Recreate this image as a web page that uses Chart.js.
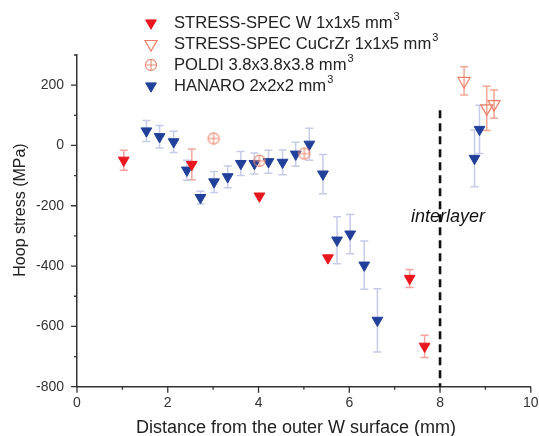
<!DOCTYPE html>
<html>
<head>
<meta charset="utf-8">
<script src="https://cdn.jsdelivr.net/npm/chart.js@4.4.0/dist/chart.umd.min.js"></script>
<style>
  html, body { margin: 0; padding: 0; background: #fff; }
</style>
</head>
<body>
<canvas id="hoopChart" width="539" height="436"></canvas>
<script>
// STRESS-SPEC W 1x1x5 mm3
const wDist = [1.03, 2.53, 4.02, 5.53, 7.33, 7.66];
const wStress = [-49, -63, -168, -373, -441, -666];
const wErr = [33, 51, 0, 0, 30, 37];

// STRESS-SPEC CuCrZr 1x1x5 mm3
const cuDist = [8.53, 9.03, 9.19];
const cuStress = [214, 123, 137];
const cuErr = [47, 73, 47];

// POLDI 3.8x3.8x3.8 mm3
const poldiDist = [3.01, 4.02, 5.01];
const poldiStress = [23, -51, -27];

// HANARO 2x2x2 mm3
const hanaroDist = [1.53, 1.82, 2.13, 2.42, 2.72, 3.02, 3.32, 3.61, 3.91, 4.22, 4.53, 4.82, 5.12, 5.42, 5.73, 6.02, 6.33, 6.62, 8.76, 8.87];
const hanaroStress = [48, 29, 12, -82, -173, -121, -104, -60, -60, -54, -56, -29, 4, -95, -314, -294, -397, -580, -43, 53];
const hanaroErr = [35, 37, 35, 33, 21, 35, 36, 40, 35, 38, 41, 40, 53, 65, 78, 65, 80, 105, 94, 80];

const xLabels = [0, 2, 4, 6, 8, 10];
const yLabels = [-800, -600, -400, -200, 0, 200];
const interlayerX = 8;
const interlayerTop = 117;

const FONT = 'Arial, "Liberation Sans", Helvetica, sans-serif';
const pts = (xs, ys) => xs.map((x, i) => ({ x, y: ys[i] }));

// circle with a cross for POLDI
const poldiMark = document.createElement('canvas');
poldiMark.width = 14; poldiMark.height = 14;
(() => {
  const c = poldiMark.getContext('2d');
  c.strokeStyle = '#ef8a72';
  c.lineWidth = 1.1;
  c.beginPath(); c.arc(7, 7, 5.6, 0, Math.PI * 2); c.stroke();
  c.beginPath();
  c.moveTo(1.4, 7); c.lineTo(12.6, 7);
  c.moveTo(7, 1.4); c.lineTo(7, 12.6);
  c.stroke();
})();

const series = [
  { label: 'STRESS-SPEC W 1x1x5 mm', data: pts(wDist, wStress), errors: wErr, errorColor: '#f4a4a0',
    pointStyle: 'triangle', rotation: 180, radius: 6.2, backgroundColor: '#e8161d', borderColor: '#e8161d', borderWidth: 1 },
  { label: 'STRESS-SPEC CuCrZr 1x1x5 mm', data: pts(cuDist, cuStress), errors: cuErr, errorColor: '#f3a895',
    pointStyle: 'triangle', rotation: 180, radius: 7, backgroundColor: 'rgba(255,255,255,0)', borderColor: '#ef7d66', borderWidth: 1.2 },
  { label: 'POLDI 3.8x3.8x3.8 mm', data: pts(poldiDist, poldiStress),
    pointStyle: poldiMark, radius: 7, backgroundColor: '#ef8a72', borderColor: '#ef8a72' },
  { label: 'HANARO 2x2x2 mm', data: pts(hanaroDist, hanaroStress), errors: hanaroErr, errorColor: '#c6cbea',
    pointStyle: 'triangle', rotation: 180, radius: 6.2, backgroundColor: '#21409a', borderColor: '#21409a', borderWidth: 1 },
];

const errorBars = {
  id: 'errorBars',
  beforeDatasetsDraw(chart) {
    const { ctx, scales: { x, y } } = chart;
    chart.data.datasets.forEach(ds => {
      if (!ds.errors) return;
      ctx.save();
      ctx.strokeStyle = ds.errorColor;
      ctx.lineWidth = 1.5;
      ds.data.forEach((p, i) => {
        const e = ds.errors[i];
        if (!e) return;
        const px = x.getPixelForValue(p.x);
        const top = y.getPixelForValue(p.y + e);
        const bot = y.getPixelForValue(p.y - e);
        ctx.beginPath();
        ctx.moveTo(px, top); ctx.lineTo(px, bot);
        ctx.moveTo(px - 4, top); ctx.lineTo(px + 4, top);
        ctx.moveTo(px - 4, bot); ctx.lineTo(px + 4, bot);
        ctx.stroke();
      });
      ctx.restore();
    });
  }
};

const decorations = {
  id: 'decorations',
  beforeDatasetsDraw(chart) {
    const { ctx, scales: { x, y } } = chart;
    // interlayer line
    const lx = x.getPixelForValue(interlayerX);
    ctx.save();
    ctx.strokeStyle = '#111';
    ctx.lineWidth = 2.6;
    ctx.setLineDash([8, 5]);
    ctx.beginPath();
    ctx.moveTo(lx, y.getPixelForValue(interlayerTop));
    ctx.lineTo(lx, y.bottom);
    ctx.stroke();
    ctx.restore();
  },
  afterDraw(chart) {
    const { ctx, scales: { x, y } } = chart;
    ctx.save();
    // tick marks, long for labelled values
    ctx.strokeStyle = '#333';
    ctx.lineWidth = 1.3;
    ctx.beginPath();
    x.ticks.forEach(t => {
      const px = x.getPixelForValue(t.value);
      const len = xLabels.includes(t.value) ? 6 : 3;
      ctx.moveTo(px, y.bottom); ctx.lineTo(px, y.bottom + len);
    });
    y.ticks.forEach(t => {
      const py = y.getPixelForValue(t.value);
      const len = yLabels.includes(t.value) ? 6 : 3;
      ctx.moveTo(x.left - len, py); ctx.lineTo(x.left, py);
    });
    ctx.stroke();

    // interlayer label
    ctx.fillStyle = '#111';
    ctx.font = 'italic 18px ' + FONT;
    ctx.textAlign = 'center';
    ctx.textBaseline = 'middle';
    ctx.fillText('interlayer', x.getPixelForValue(interlayerX) + 8, 217);

    // axis titles
    ctx.fillStyle = '#222';
    ctx.font = '18px ' + FONT;
    ctx.textBaseline = 'middle';
    ctx.fillText('Distance from the outer W surface (mm)', 296, 428);
    ctx.save();
    ctx.translate(21, 210);
    ctx.rotate(-Math.PI / 2);
    ctx.font = '16px ' + FONT;
    ctx.fillText('Hoop stress (MPa)', 0, 0);
    ctx.restore();

    // legend
    const rows = [23, 44, 65, 86];
    chart.data.datasets.forEach((ds, i) => {
      const ry = rows[i];
      ctx.fillStyle = ds.backgroundColor;
      ctx.strokeStyle = ds.borderColor;
      ctx.lineWidth = ds.borderWidth || 1;
      Chart.helpers.drawPoint(ctx, {
        pointStyle: ds.pointStyle, rotation: ds.rotation || 0,
        radius: ds.radius, borderWidth: ds.borderWidth || 0
      }, 151, ry);
      ctx.fillStyle = '#222';
      ctx.textAlign = 'left';
      ctx.textBaseline = 'middle';
      ctx.font = '16.6px ' + FONT;
      ctx.fillText(ds.label, 174, ry);
      const w = ctx.measureText(ds.label).width;
      ctx.font = '11px ' + FONT;
      ctx.fillText('3', 174 + w + 1, ry - 6);
    });
    ctx.restore();
  }
};

new Chart(document.getElementById('hoopChart'), {
  type: 'scatter',
  data: { datasets: series },
  options: {
    responsive: false,
    animation: false,
    layout: { padding: { top: 55, right: 8, left: 0, bottom: 0 } },
    plugins: { legend: { display: false }, tooltip: { enabled: false } },
    scales: {
      x: {
        min: 0, max: 10,
        afterFit: s => { s.height = 49.3; s.paddingLeft = 0; s.paddingRight = 0; },
        grid: { display: false, drawTicks: false },
        border: { display: true, color: '#333', width: 1.5 },
        ticks: {
          stepSize: 1, padding: 8, color: '#333', autoSkip: false, maxRotation: 0,
          font: { family: FONT, size: 14 },
          callback: v => xLabels.includes(v) ? String(v) : ''
        }
      },
      y: {
        min: -800, max: 300,
        afterFit: s => { s.width = 77; s.paddingTop = 0; s.paddingBottom = 0; },
        grid: { display: false, drawTicks: false },
        border: { display: true, color: '#333', width: 1.5 },
        ticks: {
          stepSize: 100, padding: 13, color: '#333', autoSkip: false,
          font: { family: FONT, size: 14 },
          callback: v => yLabels.includes(v) ? String(v) : ''
        }
      }
    }
  },
  plugins: [errorBars, decorations]
});
</script>
</body>
</html>
